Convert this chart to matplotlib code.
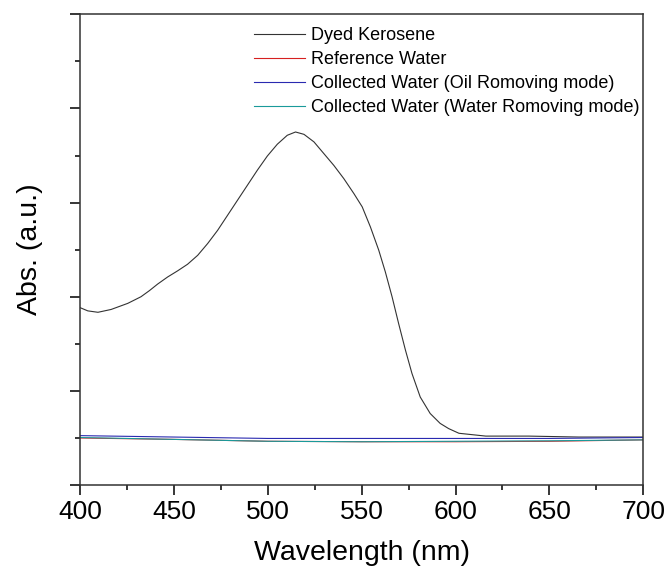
import matplotlib.pyplot as plt
from matplotlib.ticker import MultipleLocator, NullFormatter

plt.rcParams["font.family"] = ["Liberation Sans", "DejaVu Sans"]

# Dyed kerosene spectrum
kero_wl = [400.0, 404.2, 409.6, 416.6, 425.5, 432.5, 437.0, 441.4, 446.7, 452.0,
           457.3, 462.7, 468.0, 473.3, 478.6, 483.9, 489.2, 494.5, 499.8, 505.1,
           510.4, 514.8, 519.3, 524.6, 529.9, 535.2, 540.5, 545.9, 550.3, 554.7,
           559.1, 562.6, 566.2, 569.7, 573.3, 576.8, 581.2, 586.5, 591.8, 596.3,
           601.8, 616.1, 638.9, 665.5, 700.0]
kero_abs = [0.377, 0.370, 0.367, 0.373, 0.386, 0.400, 0.413, 0.427, 0.442, 0.455,
            0.469, 0.488, 0.513, 0.541, 0.573, 0.605, 0.637, 0.669, 0.699, 0.724,
            0.743, 0.750, 0.745, 0.729, 0.704, 0.679, 0.651, 0.619, 0.591, 0.548,
            0.499, 0.453, 0.400, 0.343, 0.287, 0.237, 0.187, 0.152, 0.131, 0.120,
            0.110, 0.104, 0.104, 0.102, 0.102]

water_wl = [400, 450, 500, 550, 600, 650, 700]
ref_water = [0.100, 0.097, 0.093, 0.092, 0.092, 0.093, 0.096]
oil_mode = [0.105, 0.102, 0.099, 0.099, 0.099, 0.099, 0.101]
water_mode = [0.101, 0.097, 0.093, 0.092, 0.093, 0.094, 0.096]

fig = plt.figure(figsize=(6.66, 5.72), dpi=100)
ax = fig.add_axes([0.120, 0.152, 0.846, 0.823])

ax.plot(kero_wl, kero_abs, color="#333333", lw=0.8, label="Dyed Kerosene")
ax.plot(water_wl, ref_water, color="#d62020", lw=0.8, label="Reference Water")
ax.plot(water_wl, oil_mode, color="#2a2ab0", lw=0.8,
        label="Collected Water (Oil Romoving mode)")
ax.plot(water_wl, water_mode, color="#1a9a9a", lw=0.8,
        label="Collected Water (Water Romoving mode)")

ax.set_xlim(400, 700)
ax.set_ylim(0, 1.0)
ax.xaxis.set_major_locator(MultipleLocator(50))
ax.xaxis.set_minor_locator(MultipleLocator(25))
ax.yaxis.set_major_locator(MultipleLocator(0.2))
ax.yaxis.set_minor_locator(MultipleLocator(0.1))
ax.yaxis.set_major_formatter(NullFormatter())

ax.tick_params(which="major", direction="out", length=7, width=1.1, labelsize=19)
ax.tick_params(which="minor", direction="out", length=3.5, width=1.1)
for side in ax.spines.values():
    side.set_linewidth(1.1)
    side.set_color("#333333")

ax.set_xlabel("Wavelength (nm)", fontsize=20.5, labelpad=12)
ax.set_ylabel("Abs. (a.u.)", fontsize=20.5, labelpad=16)

ax.legend(loc="upper left", bbox_to_anchor=(0.2956, 0.9876), frameon=False,
          fontsize=13, handlelength=2.85, handletextpad=0.3, labelspacing=0.38,
          borderaxespad=0)

fig.savefig("out.png", dpi=100)
